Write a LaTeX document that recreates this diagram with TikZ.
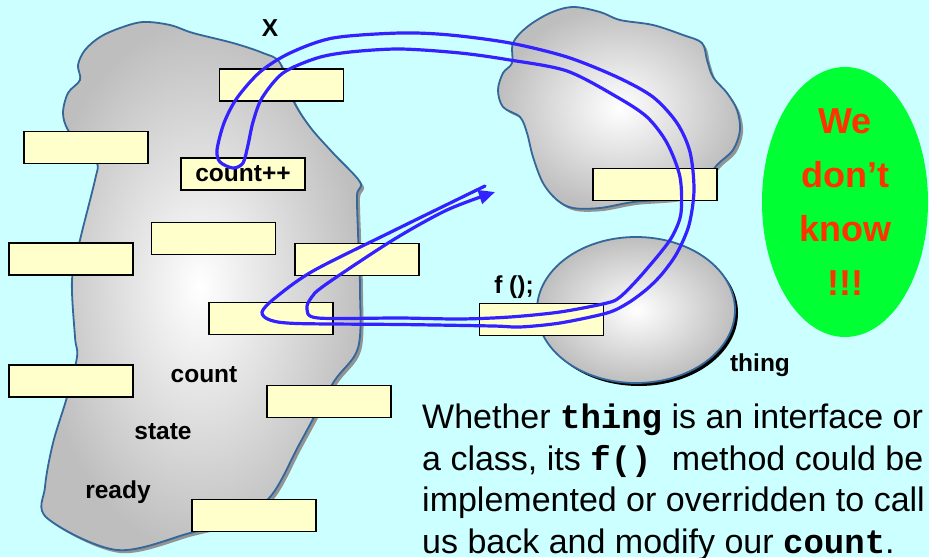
\documentclass[tikz,border=0pt]{standalone}
\usepackage{fontspec}
\setmainfont{Liberation Sans}
\newfontfamily\monofam{Liberation Mono}
\usetikzlibrary{arrows.meta,shapes.geometric}
\definecolor{sky}{HTML}{CCFFFF}
\definecolor{pad}{HTML}{FFFFCC}
\definecolor{rim}{HTML}{336699}
\definecolor{cloud}{HTML}{BEBEBE}
\definecolor{wireblue}{HTML}{3322FF}
\definecolor{okgreen}{HTML}{00FF33}
\definecolor{alarm}{HTML}{FF3300}
\tikzset{
  slot/.style={rectangle, draw=black, fill=pad, line width=1.6pt, minimum width=124pt, minimum height=32pt, inner sep=0pt},
  lbl/.style={font=\fontsize{24.5}{29}\selectfont\bfseries, inner sep=0pt, anchor=base},
  shell/.style={draw=rim, line width=1.8pt, inner color=white, outer color=cloud},
  drop/.style={fill=gray!85},
  wire/.style={draw=wireblue, line width=3.2pt, line cap=round, line join=round},
  body/.style={font=\fontsize{34}{41.5}\selectfont, inner sep=0pt, align=left, anchor=base west},
}
\newcommand{\cw}[1]{{\monofam\bfseries #1}}
\newcommand{\objblob}{plot[smooth cycle, tension=0.55] coordinates {
  (143,22) (170,25) (193,33) (233,43) (263,53) (280,63) (293,100) (310,127)
  (333,153) (360,182) (357,195) (358,233) (360,290) (358,348) (333,383)
  (300,443) (270,497) (230,522) (190,533) (117,550) (47,518) (45,487)
  (53,443) (67,397) (77,357) (75,337) (72,280) (80,240) (95,180) (97,163)
  (83,147) (68,130) (63,113) (68,93) (80,80) (78,65) (85,50) (100,37) (120,28)}}
\newcommand{\peerblob}{plot[smooth cycle, tension=0.55] coordinates {
  (573,7) (600,12) (620,20) (653,25) (683,35) (702,43) (707,60) (713,77)
  (727,93) (737,110) (740,130) (733,150) (717,165) (690,195) (633,202)
  (600,208) (573,208) (557,200) (543,183) (533,157) (527,133) (520,117)
  (503,107) (498,90) (503,73) (512,63) (513,43) (527,27) (550,13)}}

\begin{document}
\begin{tikzpicture}[x=1pt, y=-1pt]
  \useasboundingbox (0,0) rectangle (929,557);
  \fill[sky] (0,0) rectangle (929,557);
  % this object and the other one
  \fill[drop, shift={(3,3)}] \objblob;
  \path[shell] \objblob;
  \fill[drop, shift={(3,3)}] \peerblob;
  \path[shell] \peerblob;
  \fill[black] (639,313) ellipse [x radius=99pt, y radius=73pt];
  \node[ellipse, shell, minimum width=198pt, minimum height=146pt, inner sep=0pt] (thing) at (636,310) {};
  \node[ellipse, fill=okgreen, minimum width=166pt, minimum height=270pt, inner sep=0pt,
        align=center, text=alarm, font=\fontsize{36}{54}\selectfont\bfseries] (unk) at (845,202)
        {We\\don't\\know\\!!!};
  % fields and methods
  \foreach \bx/\by [count=\i] in {281.5/85, 86/147.5, 213.5/238.5, 71/259, 357/259.5,
      271/318.5, 71/381, 329/401.5, 254/515.5, 655/184.5}
    \node[slot] (s\i) at (\bx,\by) {};
  \node[slot, font=\fontsize{24.5}{29}\selectfont\bfseries] (inc) at (243,174) {count++};
  \node[slot] (call) at (541.5,319.5) {};
  % the call goes out and comes back
  \draw[wire, -{Triangle[length=16pt, width=14pt]}] plot[smooth, tension=0.5] coordinates {
    (485,186) (393,231) (313,271) (275,298) (262,312) (270,320) (297,323.5)
    (400,324.5) (493,326) (520,327) (560,323) (607,313) (628,303) (647,289)
    (662,274) (677,253) (689,225) (694,190) (690,152) (677,123) (653,97)
    (617,77) (567,57) (510,43) (450,35) (400,33) (333,38) (290,53) (260,72)
    (237,98) (224,123) (217,150) (220,162) (233,168) (243,163) (248,145)
    (253,122) (262,98) (283,73) (317,58) (350,52) (400,49) (460,53) (510,60)
    (567,71) (617,97) (647,117) (667,143) (680,177) (681,213) (673,235)
    (661,252) (638,279) (620,297) (607,303) (560,312) (510,317) (460,319)
    (400,318) (318,318) (307,309) (311,298) (325,285) (393,240) (447,210) (495,192)};
  % labels
  \node[lbl] (xl) at (270,36) {X};
  \node[lbl] (fl) at (514,293) {f ();};
  \node[lbl] (tl) at (760,371) {thing};
  \node[lbl] (cl) at (204,382) {count};
  \node[lbl] (sl) at (163,439) {state};
  \node[lbl] (rl) at (118,498) {ready};
  \node[body] (note) at (422,553) {Whether \cw{thing} is an interface or\\
    a class, its \cw{f() }method could be\\
    implemented or overridden to call\\
    us back and modify our \cw{count}.};
\end{tikzpicture}
\end{document}
